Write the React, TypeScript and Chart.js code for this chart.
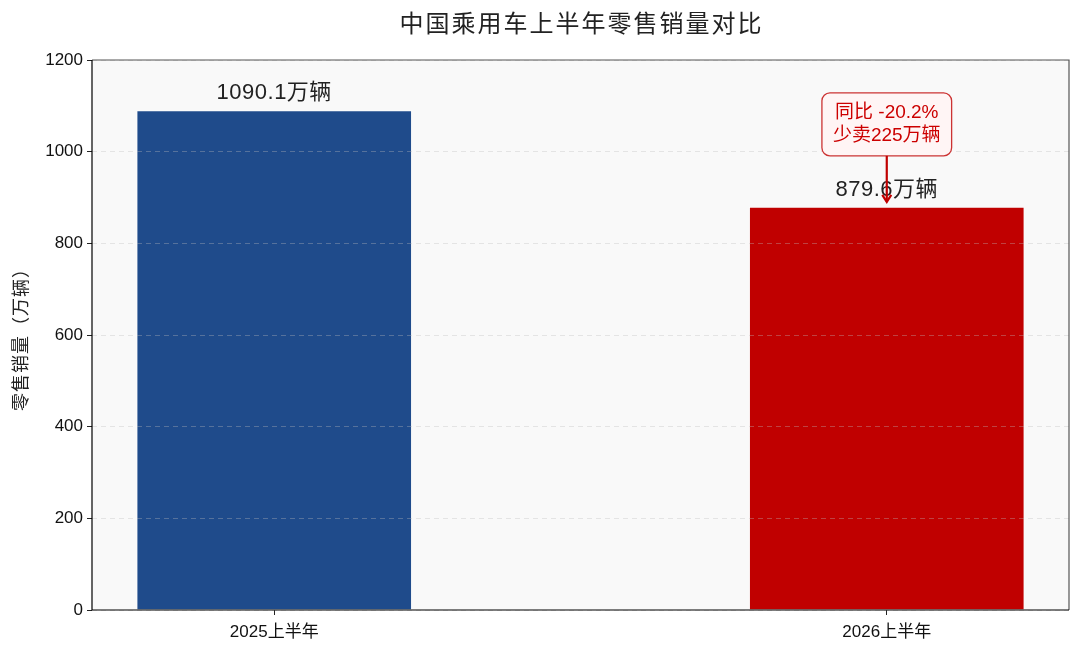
import { useEffect, useRef } from 'react';
import { Chart, registerables } from 'chart.js';

Chart.register(...registerables);

const categories = ['2025上半年', '2026上半年'];
const sales = [1090.1, 879.6];
const barColors = ['#1f4b8b', '#c00000'];
const yTicks = [0, 200, 400, 600, 800, 1000, 1200];
const titleText = '中国乘用车上半年零售销量对比';
const yTitle = '零售销量（万辆）';
const noteLines = ['同比 -20.2%', '少卖225万辆'];

const FONT = '"Liberation Sans", "Noto Sans CJK SC", sans-serif';

const decorations = {
  id: 'decorations',
  beforeDraw(chart) {
    const { ctx, chartArea: a } = chart;
    ctx.save();
    ctx.fillStyle = '#f9f9f9';
    ctx.fillRect(a.left, a.top, a.right - a.left, a.bottom - a.top);
    ctx.restore();
  },
  afterDatasetsDraw(chart) {
    const { ctx } = chart;
    const bars = chart.getDatasetMeta(0).data;
    ctx.save();
    ctx.font = `22px ${FONT}`;
    ctx.fillStyle = '#222';
    ctx.textAlign = 'center';
    ctx.textBaseline = 'bottom';
    ctx.letterSpacing = '0.5px';
    bars.forEach((bar, i) => {
      ctx.fillText(`${sales[i].toFixed(1)}万辆`, bar.x, bar.y - 6);
    });
    ctx.restore();
  },
  afterDraw(chart) {
    const { ctx, chartArea: a } = chart;
    const yScale = chart.scales.y;
    const bars = chart.getDatasetMeta(0).data;

    // frame
    ctx.save();
    ctx.lineWidth = 1.2;
    ctx.strokeStyle = '#555';
    ctx.beginPath();
    ctx.moveTo(a.left, a.top);
    ctx.lineTo(a.right, a.top);
    ctx.lineTo(a.right, a.bottom);
    ctx.stroke();
    ctx.strokeStyle = '#000';
    ctx.beginPath();
    ctx.moveTo(a.left, a.top);
    ctx.lineTo(a.left, a.bottom);
    ctx.lineTo(a.right, a.bottom);
    ctx.stroke();
    ctx.restore();

    // title
    ctx.save();
    ctx.font = `24px ${FONT}`;
    ctx.fillStyle = '#222';
    ctx.textAlign = 'center';
    ctx.textBaseline = 'middle';
    ctx.letterSpacing = '2px';
    ctx.fillText(titleText, (a.left + a.right) / 2 + 1, 25);
    ctx.restore();

    // y axis title
    ctx.save();
    ctx.translate(22, (a.top + a.bottom) / 2);
    ctx.rotate(-Math.PI / 2);
    ctx.font = `18px ${FONT}`;
    ctx.fillStyle = '#222';
    ctx.textAlign = 'center';
    ctx.textBaseline = 'middle';
    ctx.letterSpacing = '1px';
    ctx.fillText(yTitle, 0, 0);
    ctx.restore();

    // note box + arrow above the second bar
    const bar = bars[1];
    const cx = bar.x;
    const cy = yScale.getPixelForValue(sales[1] + 180);
    const tip = yScale.getPixelForValue(sales[1]) - 5;
    ctx.save();
    ctx.font = `19px ${FONT}`;
    const w = Math.max(...noteLines.map((t) => ctx.measureText(t).width)) + 22;
    const h = 63;
    const bx = cx - w / 2;
    const by = cy - h / 2;
    ctx.beginPath();
    ctx.roundRect(bx, by, w, h, 8);
    ctx.fillStyle = '#fff5f5';
    ctx.fill();
    ctx.lineWidth = 1.3;
    ctx.strokeStyle = '#cc3333';
    ctx.stroke();
    ctx.fillStyle = '#cc0000';
    ctx.textAlign = 'center';
    ctx.textBaseline = 'middle';
    ctx.fillText(noteLines[0], cx, cy - 12);
    ctx.fillText(noteLines[1], cx, cy + 11);

    ctx.strokeStyle = '#c00000';
    ctx.lineWidth = 2.2;
    ctx.beginPath();
    ctx.moveTo(cx, by + h);
    ctx.lineTo(cx, tip);
    ctx.stroke();
    ctx.beginPath();
    ctx.moveTo(cx - 4.5, tip - 7);
    ctx.lineTo(cx, tip);
    ctx.lineTo(cx + 4.5, tip - 7);
    ctx.stroke();
    ctx.restore();
  },
};

const App = () => {
  const chartRef = useRef(null);

  useEffect(() => {
    const ctx = chartRef.current.getContext('2d');

    const chart = new Chart(ctx, {
      type: 'bar',
      data: {
        datasets: [
          {
            data: sales.map((v, i) => ({ x: i, y: v })),
            backgroundColor: barColors,
            borderColor: 'rgba(255,255,255,0.45)',
            borderWidth: 1,
            barPercentage: 0.45,
            categoryPercentage: 1,
          },
        ],
      },
      options: {
        animation: false,
        responsive: false,
        devicePixelRatio: 1,
        layout: { padding: { top: 60, right: 11, left: 0, bottom: 0 } },
        plugins: {
          legend: { display: false },
          tooltip: { enabled: false },
        },
        scales: {
          x: {
            type: 'linear',
            offset: false,
            min: -0.2975,
            max: 1.2975,
            afterBuildTicks: (scale) => {
              scale.ticks = categories.map((_, i) => ({ value: i }));
            },
            afterFit: (scale) => {
              scale.height = 44;
            },
            ticks: {
              callback: (v) => categories[v],
              color: '#111',
              font: { size: 17, family: FONT },
              padding: 7,
              maxRotation: 0,
            },
            grid: {
              offset: false,
              drawOnChartArea: false,
              tickLength: 5,
              tickColor: '#222',
            },
            border: { display: false },
          },
          y: {
            min: 0,
            max: 1200,
            afterBuildTicks: (scale) => {
              scale.ticks = yTicks.map((v) => ({ value: v }));
            },
            afterFit: (scale) => {
              scale.width = 92;
            },
            ticks: {
              callback: (v) => String(v),
              color: '#111',
              font: { size: 17, family: FONT },
              padding: 4,
            },
            grid: {
              color: 'rgba(190,190,190,0.35)',
              tickLength: 5,
              tickColor: '#222',
              z: 1,
            },
            border: { display: false, dash: [5, 4] },
          },
        },
      },
      plugins: [decorations],
    });

    return () => {
      chart.destroy();
    };
  }, []);

  return (
    <div style={{ position: 'absolute', left: 0, top: 0, width: 1080, height: 654, background: '#fff' }}>
      <canvas ref={chartRef} width={1080} height={654}></canvas>
    </div>
  );
};

export default App;
